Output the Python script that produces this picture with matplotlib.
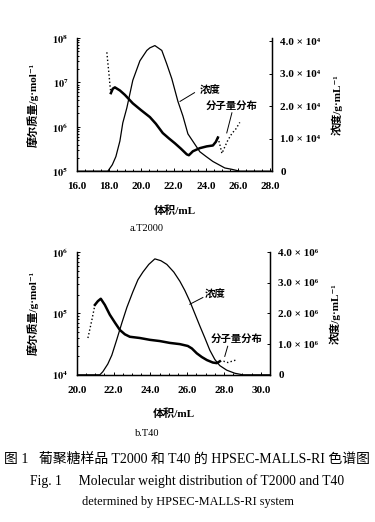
import numpy as np
import matplotlib as mpl
mpl.use('Agg')
import matplotlib.pyplot as plt
from matplotlib.ticker import MultipleLocator, LogLocator, NullFormatter

plt.rcParams['font.family'] = ['Liberation Serif', 'Noto Sans CJK SC', 'DejaVu Sans']
plt.rcParams['mathtext.fontset'] = 'stix'

# ---- panel a: T2000 ----
a_conc_vol = [16.0, 17.92, 18.2, 18.42, 18.67, 18.85, 19.1, 19.47, 19.91, 20.34, 20.53,
              20.84, 21.27, 21.58, 21.89, 22.27, 22.58, 22.89, 23.2, 23.63, 24.0,
              24.44, 25.18, 25.6, 26.11, 28.1]
a_conc = [0, 0, 0.2, 0.45, 0.93, 1.49, 1.95, 2.8, 3.4, 3.72, 3.8,
          3.87, 3.72, 3.3, 2.85, 2.15, 1.7, 1.15, 0.92, 0.6, 0.46,
          0.3, 0.1, 0.06, 0, 0]

a_mw_dot1_vol = [17.86, 17.92, 17.99, 18.05, 18.11]
a_mw_dot1 = [7.68, 7.45, 7.2, 6.95, 6.76]
a_mw_vol = [18.11, 18.23, 18.36, 18.67, 18.98, 19.47, 19.97, 20.53, 20.9, 21.33,
            21.71, 22.08, 22.45, 22.82, 22.95, 23.2, 23.63, 24.06, 24.44, 24.62, 24.75]
a_mw = [6.76, 6.86, 6.89, 6.82, 6.72, 6.53, 6.38, 6.22, 6.07, 5.86,
        5.74, 5.63, 5.51, 5.38, 5.36, 5.45, 5.52, 5.56, 5.58, 5.66, 5.76]
a_mw_dot2_vol = [24.75, 24.87, 25.0, 25.18, 25.37, 25.62, 25.86, 26.11]
a_mw_dot2 = [5.76, 5.6, 5.4, 5.55, 5.7, 5.85, 5.95, 6.1]

# ---- panel b: T40 ----
b_conc_vol = [20.0, 21.25, 21.41, 21.68, 21.9, 22.17, 22.45, 22.72, 23.04, 23.32,
              23.59, 23.91, 24.24, 24.57, 24.89, 25.27, 25.6, 25.87, 26.14, 26.41,
              26.68, 26.96, 27.23, 27.5, 27.77, 28.15, 28.59, 29.02, 30.5]
b_conc = [0, 0, 0.1, 0.35, 0.64, 1.15, 1.7, 2.2, 2.7, 3.1,
          3.35, 3.6, 3.78, 3.72, 3.6, 3.35, 3.05, 2.75, 2.4, 2.0,
          1.6, 1.2, 0.8, 0.5, 0.3, 0.15, 0.05, 0, 0]

b_mw_dot1_vol = [20.6, 20.71, 20.82, 20.98]
b_mw_dot1 = [4.6, 4.75, 4.9, 5.14]
b_mw_vol = [20.98, 21.14, 21.3, 21.52, 21.79, 22.07, 22.34, 22.61, 22.88, 23.42,
            23.97, 24.51, 25.05, 25.6, 26.03, 26.25, 26.52, 26.79, 27.07, 27.39,
            27.61, 27.77]
b_mw = [5.14, 5.2, 5.24, 5.14, 4.98, 4.85, 4.73, 4.66, 4.62, 4.6,
        4.57, 4.55, 4.52, 4.5, 4.47, 4.43, 4.35, 4.29, 4.24, 4.2,
        4.19, 4.22]
b_mw_dot2_vol = [27.77, 27.99, 28.21, 28.42, 28.64]
b_mw_dot2 = [4.22, 4.22, 4.2, 4.22, 4.24]

fig = plt.figure(figsize=(3.75, 5.22), dpi=100)

MW_LABEL = '摩尔质量/g·mol⁻¹'
CONC_LABEL = '浓度/g·mL⁻¹'


def style(ax, ax2, xlim, xticks, ylim, yticks, ylabels, conc_labels):
    ax.set_yscale('log')
    ax.set_xlim(*xlim)
    ax.set_ylim(*ylim)
    ax.spines['top'].set_visible(False)
    ax2.spines['top'].set_visible(False)
    for s in ['left', 'bottom']:
        ax.spines[s].set_linewidth(1.0)
    ax2.spines['right'].set_linewidth(1.0)
    ax.set_xticks(xticks)
    ax.set_xticklabels(['%.1f' % v for v in xticks], fontsize=8, fontweight='bold')
    ax.xaxis.set_minor_locator(MultipleLocator(0.5))
    ax.set_yticks(yticks)
    ax.set_yticklabels(ylabels, fontsize=7.5)
    ax.yaxis.set_minor_locator(LogLocator(base=10, subs=np.arange(2, 10)))
    ax.yaxis.set_minor_formatter(NullFormatter())
    ax.tick_params(which='both', direction='in', length=2.5, width=0.7)
    ax.tick_params(which='minor', length=1.5)
    ax.tick_params(axis='x', pad=8)
    ax.tick_params(axis='y', pad=6)
    ax2.set_yticks([0, 1, 2, 3, 4])
    ax2.set_yticklabels(conc_labels, fontsize=8, fontweight='bold')
    ax2.tick_params(direction='in', length=2.5, width=0.7, pad=6)


# panel a
ax1 = fig.add_axes([0.205, 0.672, 0.52, 0.255])
ax1b = ax1.twinx()
style(ax1, ax1b, (16.0, 28.1), [16, 18, 20, 22, 24, 26, 28], (1e5, 1e8),
      [1e5, 1e6, 1e7, 1e8], [r'$\mathbf{10^5}$', r'$\mathbf{10^6}$', r'$\mathbf{10^7}$', r'$\mathbf{10^8}$'],
      ['0', '1.0 × 10⁴', '2.0 × 10⁴', '3.0 × 10⁴', '4.0 × 10⁴'])
ax1b.set_ylim(0, 4.1)
ax1b.plot(a_conc_vol, a_conc, color='black', lw=0.9)
ax1.plot(a_mw_dot1_vol, 10 ** np.array(a_mw_dot1), color='black', lw=1.0, ls=':')
ax1.plot(a_mw_vol, 10 ** np.array(a_mw), color='black', lw=1.8)
ax1.plot(a_mw_dot2_vol, 10 ** np.array(a_mw_dot2), color='black', lw=1.0, ls=':')
ax1b.text(24.25, 2.48, '浓度', fontsize=7.5, ha='center', va='center', fontweight='bold')
ax1b.plot([23.3, 22.4], [2.42, 2.15], color='black', lw=0.7)
ax1b.text(25.62, 2.0, '分子量分布', fontsize=7.5, ha='center', va='center', fontweight='bold')
ax1b.plot([25.62, 25.3], [1.8, 1.18], color='black', lw=0.7)
ax1.set_xlabel('体积/mL', fontsize=8, fontweight='bold', labelpad=10)
ax1.set_ylabel(MW_LABEL, fontsize=8, fontweight='bold', labelpad=10)
ax1b.set_ylabel(CONC_LABEL, fontsize=8, fontweight='bold', labelpad=8)
fig.text(0.392, 0.563, 'a.T2000', fontsize=7.5, ha='center', va='center')

# panel b
ax2 = fig.add_axes([0.205, 0.282, 0.515, 0.235])
ax2b = ax2.twinx()
style(ax2, ax2b, (20.0, 30.5), [20, 22, 24, 26, 28, 30], (1e4, 1e6),
      [1e4, 1e5, 1e6], [r'$\mathbf{10^4}$', r'$\mathbf{10^5}$', r'$\mathbf{10^6}$'],
      ['0', '1.0 × 10⁶', '2.0 × 10⁶', '3.0 × 10⁶', '4.0 × 10⁶'])
ax2b.set_ylim(0, 4.0)
ax2b.plot(b_conc_vol, b_conc, color='black', lw=0.9)
ax2.plot(b_mw_dot1_vol, 10 ** np.array(b_mw_dot1), color='black', lw=1.0, ls=':')
ax2.plot(b_mw_vol, 10 ** np.array(b_mw), color='black', lw=1.8)
ax2.plot(b_mw_dot2_vol, 10 ** np.array(b_mw_dot2), color='black', lw=1.0, ls=':')
ax2b.text(27.5, 2.62, '浓度', fontsize=7.5, ha='center', va='center', fontweight='bold')
ax2b.plot([26.85, 26.14], [2.52, 2.3], color='black', lw=0.7)
ax2b.text(28.7, 1.18, '分子量分布', fontsize=7.5, ha='center', va='center', fontweight='bold')
ax2b.plot([28.2, 28.04], [0.93, 0.6], color='black', lw=0.7)
ax2.set_xlabel('体积/mL', fontsize=8, fontweight='bold', labelpad=10)
ax2.set_ylabel(MW_LABEL, fontsize=8, fontweight='bold', labelpad=10)
ax2b.set_ylabel(CONC_LABEL, fontsize=8, fontweight='bold', labelpad=8)
fig.text(0.392, 0.170, 'b.T40', fontsize=7.5, ha='center', va='center')

# caption
fig.text(0.5, 0.121, '图 1   葡聚糖样品 T2000 和 T40 的 HPSEC-MALLS-RI 色谱图',
         fontsize=10, ha='center', va='center')
fig.text(0.5, 0.079, 'Fig. 1     Molecular weight distribution of T2000 and T40',
         fontsize=9.8, ha='center', va='center')
fig.text(0.5, 0.038, 'determined by HPSEC-MALLS-RI system',
         fontsize=8.8, ha='center', va='center')

fig.savefig('out.png', dpi=100)
